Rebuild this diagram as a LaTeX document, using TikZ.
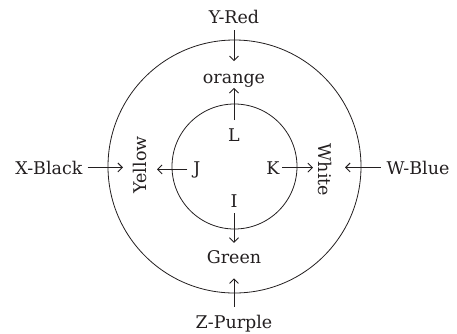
\documentclass[tikz,border=0pt]{standalone}
\usepackage{fontspec}
\setmainfont{DejaVu Serif}
\usetikzlibrary{arrows.meta}
\definecolor{ink}{HTML}{231F20}
\newcommand{\lblfont}{\fontsize{17.5}{20}\selectfont}
\tikzset{
  lab/.style={inner sep=0pt, outer sep=0pt, font=\lblfont, text=ink, anchor=base},
  arr/.style={-{Straight Barb[length=4.5pt,width=9pt]}, line width=0.9pt, draw=ink},
  ring/.style={circle, draw=ink, line width=0.8pt, inner sep=0pt}
}
\begin{document}
\begin{tikzpicture}[x=1pt,y=-1pt]
\useasboundingbox (0,0) rectangle (457,333);
\node[ring, minimum size=253pt] (outer) at (234.5,166.5) {};
\node[ring, minimum size=125pt] (inner) at (234.5,166.5) {};
% labels
\node[lab] (yred) at (234,23.3) {Y-Red};
\node[lab] (orange) at (234,83) {orange};
\node[lab] (L) at (234,141) {L};
\node[lab] (J) at (197,174) {J};
\node[lab] (K) at (273,174) {K};
\node[lab] (I) at (234,207) {I};
\node[lab] (green) at (234,263) {Green};
\node[lab] (zpurple) at (234,328) {Z-Purple};
\node[lab] (xblack) at (49,174) {X-Black};
\node[lab] (wblue) at (418,174) {W-Blue};
\node[lab, anchor=center, rotate=90] (yellow) at (140,165) {Yellow};
\node[lab, anchor=center, rotate=-90] (white) at (325,170) {White};
% arrows
\draw[arr, shorten <=6.7pt, shorten >=12.5pt] (yred.south) -- (orange.north);
\draw[arr, shorten <=8.2pt, shorten >=1pt] (L.north) -- (orange.south);
\draw[arr, shorten <=6pt, shorten >=7.2pt] (I.south) -- (green.north);
\draw[arr, shorten <=8.2pt, shorten >=15pt] (zpurple.north) -- (green.south);
\draw[arr, shorten <=5pt, shorten >=17pt] (xblack.east) -- (xblack.east -| yellow.center);
\draw[arr, shorten <=6pt, shorten >=17pt] (J.west) -- (J.west -| yellow.center);
\draw[arr, shorten <=2.5pt, shorten >=12pt] (K.east) -- (K.east -| white.center);
\draw[arr, shorten <=6pt, shorten >=20pt] (wblue.west) -- (wblue.west -| white.center);
\end{tikzpicture}
\end{document}
